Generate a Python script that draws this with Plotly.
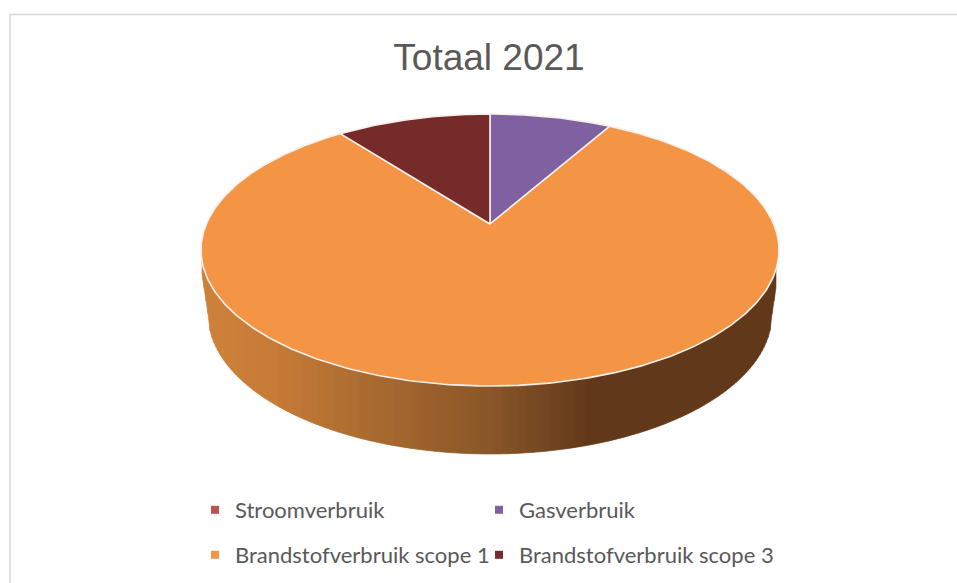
import numpy as np
import plotly.graph_objects as go

title = "Totaal 2021"
categories = ["Stroomverbruik", "Gasverbruik", "Brandstofverbruik scope 1", "Brandstofverbruik scope 3"]
values = [0.0, 8.2, 81.4, 10.4]
colors = ["#C0504D", "#7F60A0", "#F39545", "#772A2A"]

W, H = 957, 583
cx, apex_y, top_cy, top_a, top_b = 490, 224, 250, 289, 136
bot_cy, bot_a, bot_b = 314, 282, 140
c_p = 52 / 272
a_p = 110 * (1 + c_p)
d_p = 289 * np.sqrt(1 - c_p ** 2)


def project(theta):
    u, v = np.sin(theta), np.cos(theta)
    k = 1 + c_p * v
    return cx + d_p * u / k, apex_y - a_p * v / k


def top_lower(x):
    return top_cy + top_b * np.sqrt(np.clip(1 - ((x - cx) / top_a) ** 2, 0, 1))


def lower_edge(x):
    dx = np.abs(x - cx)
    if dx >= bot_a:
        t = (top_a - dx) / (top_a - bot_a)
        return 268 + t * (bot_cy - 268)
    return bot_cy + bot_b * np.sqrt(1 - (dx / bot_a) ** 2)


def lerp(c0, c1, t):
    return "rgb(%d,%d,%d)" % tuple(round(a + (b - a) * t) for a, b in zip(c0, c1))


def side_color(x):
    stops = [(201, (207, 129, 58)), (270, (200, 125, 56)), (350, (176, 111, 50)),
             (490, (138, 87, 41)), (590, (98, 58, 27)), (779, (98, 58, 27))]
    for (x0, c0), (x1, c1) in zip(stops, stops[1:]):
        if x <= x1:
            return lerp(c0, c1, (x - x0) / (x1 - x0))
    return lerp(stops[-1][1], stops[-1][1], 0)


fig = go.Figure()

# side wall of the dish
edges = np.arange(202, 778, 2.0)
for x0, x1 in zip(edges[:-1], edges[1:]):
    col = side_color((x0 + x1) / 2)
    fig.add_trace(go.Scatter(
        x=[x0, x1, x1, x0, x0],
        y=[top_lower(x0) - 3, top_lower(x1) - 3, lower_edge(x1), lower_edge(x0), top_lower(x0) - 3],
        mode="lines", fill="toself", fillcolor=col, line=dict(color=col, width=0.6),
        hoverinfo="skip", showlegend=False))

# top face slices
total = sum(values)
start = 0.0
for name, val, col in zip(categories, values, colors):
    if val > 0:
        end = start + val / total * 2 * np.pi
        n = max(8, int((end - start) * 80))
        th = np.linspace(start, end, n)
        px, py = project(th)
        fig.add_trace(go.Scatter(
            x=[cx, *px, cx], y=[apex_y, *py, apex_y], mode="lines", fill="toself",
            fillcolor=col, line=dict(color="#F6EFEA", width=1.6),
            name=name, showlegend=False, hoverinfo="name"))
        start = end

# legend entries: one legend per cell of the 2x2 grid
legend_ids = ["legend", "legend2", "legend3", "legend4"]
for lid, name, col in zip(legend_ids, categories, colors):
    fig.add_trace(go.Scatter(
        x=[None], y=[None], mode="markers", name=name,
        marker=dict(symbol="square", size=8, color=col), legend=lid))

font = dict(family="Lato, Open Sans, sans-serif", size=22, color="#595959")
common = dict(orientation="v", xanchor="left", yanchor="middle",
              font=font, bgcolor="rgba(0,0,0,0)")
cell_x = [195, 479, 195, 479]
cell_y = [510, 510, 555, 555]
legends = {lid: dict(x=lx / W, y=1 - ly / H, **common) for lid, lx, ly in zip(legend_ids, cell_x, cell_y)}

fig.update_layout(
    width=W, height=H, margin=dict(l=0, r=0, t=0, b=0),
    paper_bgcolor="white", plot_bgcolor="white",
    xaxis=dict(range=[0, W], visible=False, fixedrange=True),
    yaxis=dict(range=[H, 0], visible=False, fixedrange=True),
    title=dict(text=title, x=489 / W, xanchor="center", y=1 - 57 / H, yanchor="middle",
               font=dict(family="Liberation Sans, Arial, sans-serif", size=37, color="#595959")),
    shapes=[dict(type="rect", x0=10, x1=W + 20, y0=14.5, y1=H + 20,
                 line=dict(color="#D9D9D9", width=1.5), layer="below")],
    **legends,
)
fig.write_html("out.html", config=dict(displayModeBar=False),
               post_script="document.body.style.margin='0';document.documentElement.style.overflow='hidden';")
